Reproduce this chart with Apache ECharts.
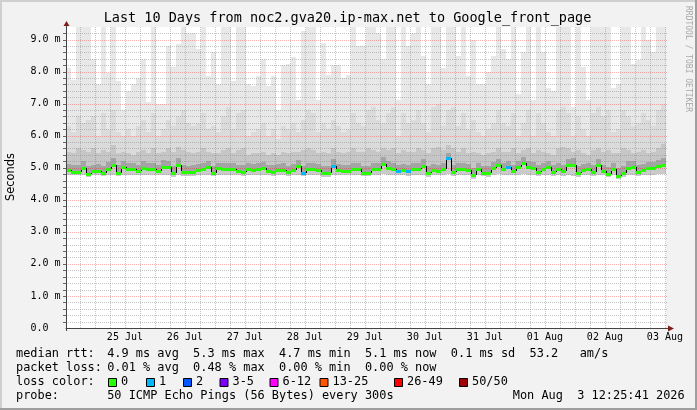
<!DOCTYPE html>
<html><head><meta charset="utf-8">
<script src="https://cdn.jsdelivr.net/npm/echarts@6/dist/echarts.min.js"></script>
<style>html,body{margin:0;padding:0;background:#f2f2f2}#c{width:697px;height:410px}</style>
</head><body><div id="c"></div><script>
// ---------- data ----------
const titleText = 'Last 10 Days from noc2.gva20.ip-max.net to Google_front_page';
const dayLabels = ['25 Jul','26 Jul','27 Jul','28 Jul','29 Jul','30 Jul','31 Jul','01 Aug','02 Aug','03 Aug'];
const yMajorTicks = [0,1,2,3,4,5,6,7,8,9];
const startHour = 12 + 25/60 + 41/3600;   // Jul 24 12:25:41, hours since Jul 24 00:00
const binHours = 2;

const median = [
4.93,4.88,4.88,5.0,4.8,4.9,4.9,4.84,4.97,5.08,
4.84,5.03,4.97,4.95,4.9,5.0,4.95,4.95,4.9,5.03,
5.01,4.82,5.1,4.88,4.86,4.87,4.93,4.97,5.03,4.84,
4.98,4.97,4.97,4.95,4.9,4.88,4.95,4.93,4.97,4.98,
4.9,4.88,4.93,4.93,4.86,4.93,5.05,4.84,4.95,4.95,
4.93,4.82,4.82,5.06,4.93,4.9,4.9,4.95,4.95,4.84,
4.85,4.97,4.95,5.13,4.99,4.97,4.9,4.93,4.89,4.97,
4.95,5.06,4.82,4.93,4.9,4.95,5.3,4.88,4.97,4.97,
4.93,4.78,4.95,4.85,4.82,4.98,5.08,4.96,5.03,4.9,
5.03,5.15,5.01,4.98,4.88,4.96,5.01,4.88,4.95,4.9,
5.08,5.1,4.82,4.93,4.95,4.88,5.08,4.9,4.8,4.95,
4.74,4.82,5.0,5.03,4.88,4.93,4.98,4.98,5.05,5.08];

const smokeMin = [
4.78,4.76,4.77,4.76,4.72,4.77,4.76,4.74,4.78,4.77,
4.73,4.77,4.78,4.77,4.76,4.78,4.77,4.77,4.76,4.78,
4.78,4.72,4.77,4.75,4.74,4.75,4.77,4.78,4.78,4.74,
4.78,4.78,4.77,4.77,4.76,4.75,4.77,4.77,4.78,4.78,
4.76,4.75,4.77,4.77,4.74,4.77,4.78,4.73,4.77,4.77,
4.76,4.72,4.72,4.77,4.77,4.76,4.76,4.77,4.77,4.74,
4.74,4.78,4.77,4.79,4.78,4.78,4.76,4.77,4.75,4.78,
4.77,4.78,4.72,4.77,4.76,4.77,4.8,4.75,4.78,4.78,
4.76,4.66,4.77,4.74,4.72,4.78,4.79,4.78,4.78,4.76,
4.78,4.79,4.78,4.78,4.75,4.78,4.78,4.75,4.77,4.73,
4.77,4.74,4.71,4.77,4.77,4.74,4.78,4.76,4.7,4.77,
4.66,4.72,4.78,4.78,4.75,4.77,4.78,4.78,4.79,4.8];

const smokeP1 = [
5.12,5.08,5.1,5.2,5.05,5.1,5.12,5.06,5.18,5.3,
5.08,5.22,5.16,5.14,5.1,5.2,5.14,5.15,5.1,5.24,
5.2,5.05,5.3,5.08,5.06,5.08,5.12,5.16,5.22,5.06,
5.16,5.15,5.16,5.14,5.1,5.08,5.14,5.12,5.16,5.18,
5.1,5.08,5.12,5.14,5.06,5.12,5.24,5.06,5.14,5.15,
5.12,5.04,5.04,5.26,5.12,5.1,5.1,5.14,5.15,5.05,
5.06,5.16,5.15,5.32,5.2,5.16,5.1,5.12,5.08,5.16,
5.14,5.26,5.04,5.12,5.1,5.16,5.45,5.08,5.16,5.16,
5.12,5.0,5.14,5.06,5.04,5.18,5.28,5.16,5.22,5.1,
5.22,5.34,5.2,5.18,5.08,5.16,5.2,5.08,5.14,5.1,
5.28,5.3,5.04,5.12,5.14,5.08,5.28,5.1,5.02,5.14,
4.98,5.04,5.2,5.22,5.08,5.12,5.18,5.18,5.24,5.3];

const smokeP2 = [
5.5,5.45,5.6,5.55,5.5,5.6,5.45,5.55,5.5,5.7,
5.45,5.5,5.45,5.4,5.5,5.55,5.45,5.6,5.45,5.5,
5.6,5.5,5.65,5.55,5.5,5.45,5.5,5.6,5.5,5.45,
5.45,5.55,5.6,5.45,5.55,5.6,5.4,5.45,5.45,5.5,
5.4,5.45,5.4,5.5,5.45,5.5,5.5,5.55,5.6,5.55,
5.45,5.5,5.45,5.6,5.5,5.45,5.5,5.6,5.5,5.5,
5.6,5.55,5.5,5.6,5.55,5.6,5.45,5.55,5.5,5.5,
5.6,5.55,5.45,5.6,5.65,5.55,5.7,5.6,5.5,5.6,
5.45,5.5,5.45,5.4,5.45,5.5,5.6,5.5,5.5,5.6,
5.45,5.55,5.6,5.45,5.55,5.5,5.45,5.4,5.6,5.65,
5.6,5.5,5.55,5.45,5.4,5.55,5.6,5.5,5.55,5.45,
5.45,5.6,5.55,5.45,5.5,5.55,5.45,5.5,5.6,5.75];

const smokeP3 = [
6.3,6.1,6.6,6.4,6.5,6.6,6.0,6.7,6.2,6.8,
6.1,6.0,6.2,6.0,6.3,6.5,6.1,6.7,6.0,6.2,
6.5,6.3,6.6,6.8,6.4,6.3,6.4,6.7,6.2,6.3,
6.1,6.6,6.9,6.2,6.7,6.8,6.0,6.1,6.2,6.4,
6.0,6.2,5.9,6.3,6.2,6.4,6.1,6.5,6.8,6.7,
6.1,6.4,6.2,6.5,6.3,6.1,6.2,6.7,6.4,6.3,
6.8,6.9,6.5,6.4,6.7,6.9,6.0,6.7,6.4,6.5,
6.8,6.4,6.1,6.9,7.0,6.3,6.8,6.9,6.3,6.7,
6.2,6.5,6.1,6.0,6.2,6.4,6.8,6.4,6.3,6.7,
6.0,6.4,6.8,6.0,6.7,6.4,6.1,6.0,6.8,6.9,
6.7,6.0,6.6,6.2,6.0,6.7,6.9,6.6,6.8,6.1,
6.2,6.8,6.6,6.3,6.4,6.7,6.5,6.3,6.8,7.0];

const smokeMax = [
8.1,7.74,9.9,9.9,9.9,8.4,7.6,9.9,7.95,9.9,
7.7,6.8,7.4,7.6,7.8,8.4,7.05,9.9,7.0,7.0,
8.8,8.15,8.85,9.9,9.2,9.2,8.7,9.9,7.85,8.6,
7.6,9.9,9.9,7.7,9.9,9.9,7.6,7.55,7.85,8.4,
7.55,7.85,6.8,8.2,8.25,8.45,7.1,9.25,9.9,9.9,
7.1,8.9,7.9,8.2,8.2,7.8,7.9,9.9,8.8,8.8,
9.9,9.9,9.2,8.4,9.9,9.9,7.1,9.9,8.8,9.2,
9.9,8.5,7.6,9.9,9.9,8.1,9.9,9.9,8.5,9.9,
7.85,9.0,7.6,7.6,8.0,8.5,9.9,8.7,8.4,9.9,
7.3,8.6,9.9,7.1,9.9,8.6,7.5,7.4,9.9,9.9,
9.9,6.9,9.9,8.15,7.1,9.9,9.9,9.9,9.9,7.5,
7.6,9.9,9.9,8.25,8.35,9.9,9.0,8.6,9.9,9.9];

// index into lossLabels / lossColors for each bin
const lossIdx = [
0,0,0,0,0,0,0,0,0,0,
0,0,0,0,0,0,0,0,0,0,
0,0,0,0,0,0,0,0,0,0,
0,0,0,0,0,0,0,0,0,0,
0,0,0,0,0,0,0,1,0,0,
0,0,0,1,0,0,0,0,0,0,
0,0,0,0,0,0,1,0,1,0,
0,0,0,0,0,0,1,0,0,0,
0,0,0,0,0,0,0,0,1,0,
0,0,0,0,0,0,0,0,0,0,
0,0,0,0,0,0,0,0,0,0,
0,0,0,0,0,0,0,0,0,0];

const lossLabels = ['0','1','2','3-5','6-12','13-25','26-49','50/50'];
const lossColors = ['#26ff00','#00b8ff','#0059ff','#7e00ff','#ff00ff','#ff5500','#ff0000','#a10000'];

const legendRows = ['median rtt:','packet loss:','loss color:','probe:'];
const rttStats  = '4.9 ms avg  5.3 ms max  4.7 ms min  5.1 ms now  0.1 ms sd  53.2   am/s';
const lossStats = '0.01 % avg  0.48 % max  0.00 % min  0.00 % now';
const probeText = '50 ICMP Echo Pings (56 Bytes) every 300s';
const dateText  = 'Mon Aug  3 12:25:41 2026';

// ---------- layout / style ----------
const W = 697, H = 410;
const G = {left: 66, top: 27, width: 600, height: 301};
const MONO = '"DejaVu Sans Mono", monospace';
const SANS = '"DejaVu Sans", sans-serif';
const smokeColors = ['#cacaca','#a4a4a4','#c6c6c6','#dbdbdb','#e8e8e8'];
const GRIDC = 'rgba(140,140,140,0.5)';
const MGRIDC = 'rgba(255,0,0,0.3)';
const AXISC = '#444';
const ARROWC = '#7f1f1f';
const LEG_Y = [354, 368, 382, 396];
const LEG_X0 = 16, LEG_X1 = 107.2;
const boxX = [108, 146, 183, 219.5, 269.5, 319.5, 394, 459];

const N = median.length;
const tEnd = startHour + N * binHours;
const binStart = i => startHour + i * binHours;

// grid lines (computed from tick definitions)
const gridLines = [];
for (let h = 18; h <= tEnd; h += 6) gridLines.push({dir: 'v', v: h, major: h % 24 === 0});
const yTop = 9.39;
for (let j = 1; j * 0.2 <= yTop; j++) gridLines.push({dir: 'h', v: Math.round(j * 2) / 10, major: j % 5 === 0});
const dayNoon = dayLabels.map((_, k) => (k + 1) * 24 + 12);

const chart = echarts.init(document.getElementById('c'), null, {renderer: 'canvas'});

function renderSmoke(params, api) {
  const i = api.value(2);
  const cs = params.coordSys;
  const x0 = Math.round(api.coord([binStart(i), 0])[0]);
  const x1 = Math.round(api.coord([binStart(i) + binHours, 0])[0]);
  const vals = [smokeMin[i], median[i], smokeP1[i], smokeP2[i], smokeP3[i], smokeMax[i]];
  const children = [];
  for (let k = 0; k < 5; k++) {
    let yb = Math.round(api.coord([startHour, vals[k]])[1]);
    let yt = Math.round(api.coord([startHour, vals[k + 1]])[1]);
    yt = Math.max(yt, cs.y);
    if (yb <= yt) continue;
    children.push({type: 'rect', shape: {x: x0, y: yt, width: x1 - x0, height: yb - yt}, style: {fill: smokeColors[k]}});
  }
  return {type: 'group', children};
}

function renderGrid(params, api) {
  const L = gridLines[api.value(2)];
  const cs = params.coordSys;
  const col = L.major ? MGRIDC : GRIDC;
  if (L.dir === 'v') {
    const x = Math.round(api.coord([L.v, 0])[0]) + 0.5;
    return {type: 'line', shape: {x1: x, y1: cs.y, x2: x, y2: cs.y + cs.height}, style: {stroke: col, lineWidth: 1, lineDash: [1, 1]}};
  }
  const y = Math.round(api.coord([startHour, L.v])[1]) + 0.5;
  return {type: 'group', children: [
    {type: 'line', shape: {x1: cs.x, y1: y, x2: cs.x + cs.width + 2, y2: y}, style: {stroke: col, lineWidth: 1, lineDash: [1, 1]}},
    {type: 'line', shape: {x1: cs.x - 3, y1: y, x2: cs.x, y2: y}, style: {stroke: '#666', lineWidth: 1}}
  ]};
}

function renderMedian(params, api) {
  const i = api.value(2);
  const x0 = Math.round(api.coord([binStart(i), 0])[0]);
  const x1 = Math.round(api.coord([binStart(i) + binHours, 0])[0]);
  const yc = Math.round(api.coord([startHour, median[i]])[1]);
  const children = [];
  if (i > 0) {
    const yp = Math.round(api.coord([startHour, median[i - 1]])[1]);
    if (yp !== yc) children.push({type: 'line', shape: {x1: x0 + 0.5, y1: yp, x2: x0 + 0.5, y2: yc + 1}, style: {stroke: '#000', lineWidth: 1}});
  }
  children.push({type: 'rect', shape: {x: x0, y: yc - 1, width: x1 - x0, height: 3}, style: {fill: lossColors[lossIdx[i]]}});
  return {type: 'group', children};
}

const binData = median.map((m, i) => [binStart(i), m, i]);
const gridData = gridLines.map((l, i) => [startHour, 0, i]);

const graphic = [
  {type: 'rect', shape: {x: 0, y: 0, width: W, height: 2}, style: {fill: '#cfcfcf'}},
  {type: 'rect', shape: {x: 0, y: 0, width: 2, height: H}, style: {fill: '#cfcfcf'}},
  {type: 'rect', shape: {x: 0, y: H - 2, width: W, height: 2}, style: {fill: '#9e9e9e'}},
  {type: 'rect', shape: {x: W - 2, y: 0, width: 2, height: H}, style: {fill: '#9e9e9e'}},
  {type: 'text', x: 347.5, y: 18, style: {text: titleText, fontFamily: MONO, fontSize: 13.5, fill: '#000', align: 'center', verticalAlign: 'middle'}},
  {type: 'text', x: 11, y: 177, rotation: Math.PI / 2, style: {text: 'Seconds', fontFamily: SANS, fontSize: 11.4, fill: '#000', align: 'center', verticalAlign: 'middle'}},
  {type: 'text', x: 688, y: 59, rotation: -Math.PI / 2, style: {text: 'RRDTOOL / TOBI OETIKER', fontFamily: MONO, fontSize: 8, fill: '#a8a8a8', align: 'center', verticalAlign: 'middle'}},
  // axis extensions and arrows
  {type: 'line', shape: {x1: G.left + 0.5, y1: G.top, x2: G.left + 0.5, y2: G.top - 5}, style: {stroke: AXISC, lineWidth: 1}},
  {type: 'line', shape: {x1: G.left + 0.5, y1: G.top + G.height, x2: G.left + 0.5, y2: G.top + G.height + 3}, style: {stroke: AXISC, lineWidth: 1}},
  {type: 'polygon', shape: {points: [[G.left - 2.5, G.top - 1], [G.left + 3.5, G.top - 1], [G.left + 0.5, G.top - 6]]}, style: {fill: ARROWC}},
  {type: 'line', shape: {x1: G.left + G.width, y1: G.top + G.height + 0.5, x2: G.left + G.width + 3, y2: G.top + G.height + 0.5}, style: {stroke: AXISC, lineWidth: 1}},
  {type: 'polygon', shape: {points: [[G.left + G.width + 2, G.top + G.height - 2.5], [G.left + G.width + 2, G.top + G.height + 3.5], [G.left + G.width + 8, G.top + G.height + 0.5]]}, style: {fill: ARROWC}}
];
legendRows.forEach((t, r) => graphic.push({type: 'text', x: LEG_X0, y: LEG_Y[r], style: {text: t, fontFamily: MONO, fontSize: 11.9, fill: '#000', verticalAlign: 'middle'}}));
graphic.push({type: 'text', x: LEG_X1, y: LEG_Y[0], style: {text: rttStats, fontFamily: MONO, fontSize: 11.9, fill: '#000', verticalAlign: 'middle'}});
graphic.push({type: 'text', x: LEG_X1, y: LEG_Y[1], style: {text: lossStats, fontFamily: MONO, fontSize: 11.9, fill: '#000', verticalAlign: 'middle'}});
graphic.push({type: 'text', x: LEG_X1, y: LEG_Y[3], style: {text: probeText, fontFamily: MONO, fontSize: 11.9, fill: '#000', verticalAlign: 'middle'}});
graphic.push({type: 'text', x: 512.8, y: LEG_Y[3], style: {text: dateText, fontFamily: MONO, fontSize: 11.9, fill: '#000', verticalAlign: 'middle'}});
lossLabels.forEach((t, k) => {
  graphic.push({type: 'rect', shape: {x: boxX[k] + 0.5, y: LEG_Y[2] - 3.5, width: 8, height: 8}, style: {fill: lossColors[k], stroke: '#000', lineWidth: 1}});
  graphic.push({type: 'text', x: boxX[k] + 13, y: LEG_Y[2], style: {text: t, fontFamily: MONO, fontSize: 11.9, fill: '#000', verticalAlign: 'middle'}});
});

chart.setOption({
  animation: false,
  backgroundColor: '#f2f2f2',
  grid: {left: G.left, top: G.top, width: G.width, height: G.height, show: true, backgroundColor: '#ffffff', borderWidth: 0},
  xAxis: {
    type: 'value', min: startHour, max: tEnd, z: 6,
    axisLine: {show: true, lineStyle: {color: AXISC, width: 1}},
    axisTick: {show: false}, splitLine: {show: false},
    axisLabel: {
      customValues: dayNoon,
      formatter: v => dayLabels[Math.round((v - 36) / 24)] || '',
      fontFamily: MONO, fontSize: 10, color: '#000', margin: 4
    }
  },
  yAxis: {
    type: 'value', min: 0, max: yTop, interval: 1, z: 6,
    axisLine: {show: true, lineStyle: {color: AXISC, width: 1}},
    axisTick: {show: false}, splitLine: {show: false},
    axisLabel: {
      showMaxLabel: false,
      formatter: v => (yMajorTicks.indexOf(v) < 0) ? '' : (v === 0 ? '0.0' : v.toFixed(1) + ' m'),
      fontFamily: MONO, fontSize: 10, color: '#000', align: 'left', margin: 35.5
    }
  },
  series: [
    {type: 'custom', name: 'smoke', renderItem: renderSmoke, data: binData, encode: {x: 0, y: 1}, z: 2, silent: true},
    {type: 'custom', name: 'grid', renderItem: renderGrid, data: gridData, encode: {x: 0, y: 1}, z: 3, silent: true},
    {type: 'custom', name: 'median', renderItem: renderMedian, data: binData, encode: {x: 0, y: 1}, z: 4, silent: true}
  ],
  graphic: graphic
});
</script></body></html>
